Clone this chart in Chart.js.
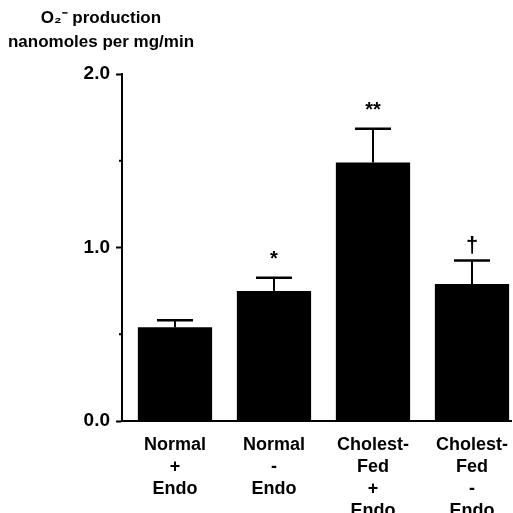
<!DOCTYPE html>
<html><head><meta charset="utf-8">
<script src="https://cdn.jsdelivr.net/npm/chart.js@4"></script>
<style>html,body{margin:0;padding:0;background:#fff;}#wrap{width:513px;height:513px;position:relative;}</style>
</head><body><div id="wrap"><canvas id="c" width="513" height="513"></canvas></div>
<script>
const categories = [["Normal","+","Endo"],["Normal","-","Endo"],["Cholest-","Fed","+","Endo"],["Cholest-","Fed","-","Endo"]];
const means = [0.54, 0.75, 1.49, 0.79];
const sems = [0.04, 0.075, 0.195, 0.135];
const significance = ["", "*", "**", "\u2020"];
const yTicks = [0, 1, 2];
const titleLines = ["O\u2082\u207B production", "nanomoles per mg/min"];

const FONT = "'Liberation Sans', Arial, sans-serif";

const errorBars = {
  id: 'errorBars',
  afterDatasetsDraw(chart) {
    const ctx = chart.ctx, x = chart.scales.x, y = chart.scales.y;
    ctx.save();
    ctx.strokeStyle = '#000';
    means.forEach((m, i) => {
      const px = x.getPixelForValue(i);
      const top = y.getPixelForValue(m);
      const cap = y.getPixelForValue(m + sems[i]);
      ctx.lineWidth = 2;
      ctx.beginPath(); ctx.moveTo(px, top); ctx.lineTo(px, cap); ctx.stroke();
      ctx.lineWidth = 2.5;
      ctx.beginPath(); ctx.moveTo(px - 18, cap); ctx.lineTo(px + 18, cap); ctx.stroke();
      if (significance[i]) {
        ctx.fillStyle = '#000';
        ctx.textAlign = 'center';
        ctx.textBaseline = 'alphabetic';
        if (significance[i] === '\u2020') {
          ctx.font = 'bold 22px ' + FONT;
          ctx.fillText(significance[i], px, cap - 9);
        } else {
          ctx.font = 'bold 20px ' + FONT;
          ctx.fillText(significance[i], px, cap - 13);
        }
      }
    });
    // minor ticks
    ctx.lineWidth = 2;
    [0.5, 1.5].forEach(v => {
      const py = y.getPixelForValue(v);
      ctx.beginPath(); ctx.moveTo(chart.chartArea.left - 3, py); ctx.lineTo(chart.chartArea.left, py); ctx.stroke();
    });
    // title
    ctx.fillStyle = '#000';
    ctx.textAlign = 'center';
    ctx.font = 'bold 17px ' + FONT;
    ctx.fillText(titleLines[0], 101, 23);
    ctx.fillText(titleLines[1], 101, 47);
    ctx.restore();
  }
};

new Chart(document.getElementById('c'), {
  type: 'bar',
  data: {
    datasets: [{
      data: means.map((v, i) => ({x: i, y: v})),
      backgroundColor: '#000',
      borderWidth: 0,
      categoryPercentage: 1,
      barPercentage: 0.75,
      clip: false
    }]
  },
  options: {
    responsive: false,
    animation: false,
    events: [],
    layout: {padding: {left: 0, right: 0, top: 74, bottom: 0}},
    plugins: {legend: {display: false}, tooltip: {enabled: false}, title: {display: false}},
    scales: {
      x: {
        type: 'linear',
        offset: false,
        min: -0.535,
        max: 3.40,
        afterBuildTicks: (axis) => { axis.ticks = categories.map((c, i) => ({value: i})); },
        afterFit: (axis) => { axis.height = 92; },
        border: {display: true, color: '#000', width: 2},
        grid: {display: false, offset: false},
        ticks: {
          autoSkip: false,
          maxRotation: 0,
          padding: 5,
          color: '#000',
          font: {family: FONT, size: 18, weight: 'bold', lineHeight: 1.22},
          callback: (v) => categories[v]
        }
      },
      y: {
        min: 0,
        max: 2,
        afterBuildTicks: (axis) => { axis.ticks = yTicks.map(v => ({value: v})); },
        afterFit: (axis) => { axis.width = 122; },
        border: {display: true, color: '#000', width: 2},
        grid: {drawOnChartArea: false, drawTicks: true, tickLength: 6, color: '#000', tickWidth: 2},
        ticks: {
          padding: 6,
          color: '#000',
          font: {family: FONT, size: 19, weight: 'bold'},
          callback: (v) => v.toFixed(1)
        }
      }
    }
  },
  plugins: [errorBars]
});
</script></body></html>
